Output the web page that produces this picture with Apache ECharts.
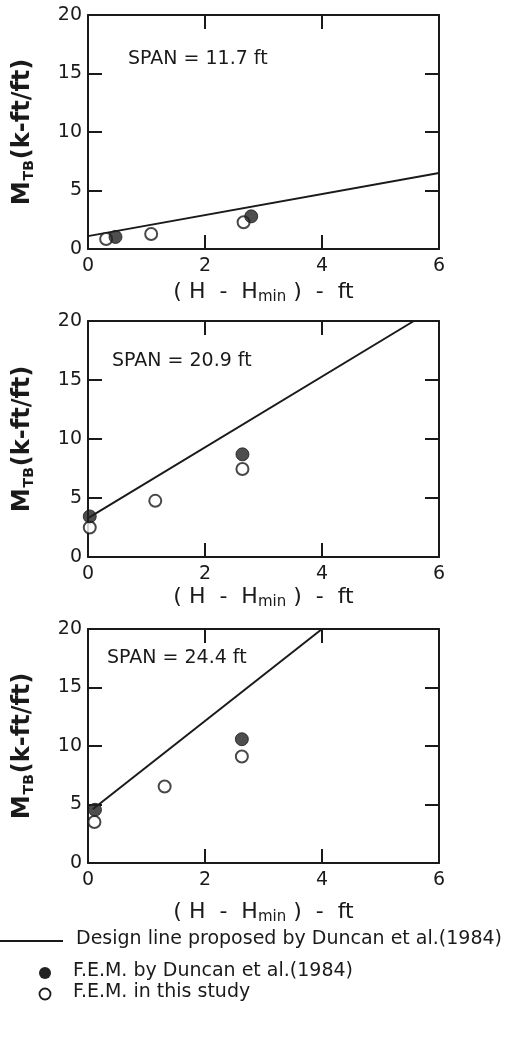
<!DOCTYPE html>
<html><head><meta charset="utf-8">
<script src="https://cdn.jsdelivr.net/npm/echarts@6/dist/echarts.min.js"></script>
<style>html,body{margin:0;padding:0;background:#fff}#c{width:516px;height:1038px}</style>
</head><body><div id="c"></div>
<script>
// ---- data ----
const xTicks = [0, 2, 4, 6];
const yTicks = [0, 5, 10, 15, 20];
const spanLabels = ['SPAN = 11.7 ft', 'SPAN = 20.9 ft', 'SPAN = 24.4 ft'];
const design1 = [[0, 1.1], [6, 6.5]];
const design2 = [[0, 3.3], [5.57, 20]];
const design3 = [[0.08, 4.6], [4.0, 20]];
const duncan1 = [[0.47, 1.03], [2.79, 2.79]];
const study1 = [[0.31, 0.85], [1.08, 1.28], [2.66, 2.28]];
const duncan2 = [[0.03, 3.44], [2.64, 8.7]];
const study2 = [[0.03, 2.5], [1.15, 4.76], [2.64, 7.46]];
const duncan3 = [[0.12, 4.55], [2.63, 10.58]];
const study3 = [[0.11, 3.5], [1.31, 6.54], [2.63, 9.1]];
const legendNames = ['Design line proposed by Duncan et al.(1984)', 'F.E.M. by Duncan et al.(1984)', 'F.E.M. in this study'];

const designs = [design1, design2, design3];
const duncans = [duncan1, duncan2, duncan3];
const studies = [study1, study2, study3];

const FONT = 'DejaVu Sans';
const INK = '#1a1a1a';
const grids = [
  {left: 88, right: 77, top: 15, height: 234},
  {left: 88, right: 77, top: 321, height: 236},
  {left: 88, right: 77, top: 629, height: 234}
];
const xNameGaps = [30, 27, 36];
const spanPos = [[128, 50], [112, 352], [107, 649]];

const xAxes = [], yAxes = [], series = [], titles = [];
grids.forEach((g, i) => {
  const lineStyle = {color: INK, width: 2};
  const tick = {show: true, inside: true, length: 14, lineStyle: {color: INK, width: 2}};
  xAxes.push({
    type: 'value', gridIndex: i, position: 'bottom', min: xTicks[0], max: xTicks[xTicks.length - 1], interval: 2,
    axisLine: {show: true, onZero: false, lineStyle}, axisTick: tick, splitLine: {show: false},
    axisLabel: {color: INK, fontFamily: FONT, fontSize: 19, margin: 8},
    name: '( H  -  H{s|min} )  -  ft', nameLocation: 'middle', nameGap: xNameGaps[i],
    nameTextStyle: {color: INK, fontFamily: FONT, fontSize: 22,
      rich: {s: {fontFamily: FONT, fontSize: 15, color: INK, verticalAlign: 'bottom', padding: [11, 0, 0, 0]}}}
  });
  xAxes.push({
    type: 'value', gridIndex: i, position: 'top', min: 0, max: 6, interval: 2,
    axisLine: {show: true, onZero: false, lineStyle}, axisTick: tick, splitLine: {show: false},
    axisLabel: {show: false}
  });
  yAxes.push({
    type: 'value', gridIndex: i, position: 'left', min: yTicks[0], max: yTicks[yTicks.length - 1], interval: 5,
    axisLine: {show: true, onZero: false, lineStyle}, axisTick: tick, splitLine: {show: false},
    axisLabel: {color: INK, fontFamily: FONT, fontSize: 19, margin: 6},
    name: '{b|M}{s|TB}{b|(k-ft/ft)}', nameLocation: 'middle', nameGap: 52, nameRotate: 90,
    nameTextStyle: {color: INK, rich: {
      b: {fontFamily: FONT, fontSize: 24, fontWeight: 'bold', color: INK},
      s: {fontFamily: FONT, fontSize: 14, fontWeight: 'bold', color: INK, verticalAlign: 'bottom', padding: [12, 1, 0, 1]}
    }}
  });
  yAxes.push({
    type: 'value', gridIndex: i, position: 'right', min: 0, max: 20, interval: 5,
    axisLine: {show: true, onZero: false, lineStyle}, axisTick: tick, splitLine: {show: false},
    axisLabel: {show: false}
  });
  series.push({
    name: legendNames[0], type: 'line', xAxisIndex: 2 * i, yAxisIndex: 2 * i, data: designs[i],
    symbol: 'none', lineStyle: {color: INK, width: 2}, z: 2, silent: true, animation: false
  });
  series.push({
    name: legendNames[2], type: 'scatter', xAxisIndex: 2 * i, yAxisIndex: 2 * i, data: studies[i],
    symbol: 'circle', symbolSize: 12, itemStyle: {color: '#fff', borderColor: INK, borderWidth: 2}, z: 3, animation: false
  });
  series.push({
    name: legendNames[1], type: 'scatter', xAxisIndex: 2 * i, yAxisIndex: 2 * i, data: duncans[i],
    symbol: 'circle', symbolSize: 13, itemStyle: {color: '#222', borderColor: INK, borderWidth: 1}, z: 4, animation: false
  });
  titles.push({
    text: spanLabels[i], left: spanPos[i][0], top: spanPos[i][1], padding: 0,
    textStyle: {color: INK, fontFamily: FONT, fontSize: 19, fontWeight: 'normal'}
  });
});

const chart = echarts.init(document.getElementById('c'), null, {renderer: 'canvas'});
chart.setOption({
  backgroundColor: '#fff',
  animation: false,
  title: titles,
  grid: grids,
  xAxis: xAxes,
  yAxis: yAxes,
  series: series,
  graphic: [
    {type: 'line', shape: {x1: 0, y1: 941, x2: 63, y2: 941}, style: {stroke: INK, lineWidth: 2}},
    {type: 'text', left: 76, top: 930, style: {text: legendNames[0], fill: INK, font: '19px "DejaVu Sans"'}},
    {type: 'circle', shape: {cx: 45, cy: 973, r: 6}, style: {fill: '#222'}},
    {type: 'text', left: 73, top: 962, style: {text: legendNames[1], fill: INK, font: '19px "DejaVu Sans"'}},
    {type: 'circle', shape: {cx: 45, cy: 994, r: 5.5}, style: {fill: '#fff', stroke: INK, lineWidth: 1.8}},
    {type: 'text', left: 73, top: 983, style: {text: legendNames[2], fill: INK, font: '19px "DejaVu Sans"'}}
  ]
});
</script></body></html>
